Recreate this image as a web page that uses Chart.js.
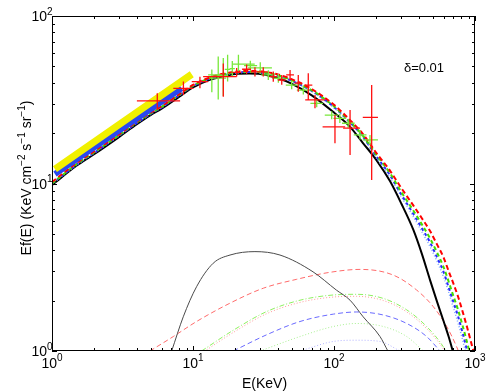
<!DOCTYPE html>
<html>
<head>
<meta charset="utf-8">
<script src="https://cdn.jsdelivr.net/npm/chart.js@4.4.0/dist/chart.umd.min.js"></script>
<style>
  body { margin: 0; background: #fff; }
  #wrap { width: 491px; height: 392px; }
</style>
</head>
<body>
<div id="wrap"><canvas id="specChart" width="491" height="392"></canvas></div>
<script>
// Total model curves, sampled on one energy grid (keV)
const modelE = [1, 1.5, 2, 3, 4, 5, 6, 8, 10, 13, 16, 20, 25, 30, 40, 50, 70, 100, 130, 160, 200, 250, 300, 365, 420, 480, 540, 600, 650, 700, 760, 820, 880, 940, 1000];
const totalBlack = [9.8, 12.8, 15.0, 19.0, 22.6, 25.6, 28.0, 33.0, 37.5, 41.5, 43.5, 45.0, 45.3, 45.0, 42.5, 39.5, 33.5, 26.5, 21.8, 17.5, 13.8, 10.3, 7.6, 5.3, 3.8, 2.65, 1.95, 1.5, 1.22, 0.98, 0.75, 0.55, 0.4, 0.28, 0.2];
const totalRed = [10.2, 13.3, 15.6, 19.7, 23.4, 26.5, 29.0, 34.2, 38.8, 42.8, 45.0, 46.5, 47.0, 46.8, 44.8, 42.0, 36.5, 29.5, 23.9, 19.8, 15.2, 11.9, 9.4, 7.4, 6.2, 5.2, 4.3, 3.6, 3.0, 2.55, 2.1, 1.7, 1.38, 1.12, 0.92];
const totalGreen = [10.0, 13.1, 15.4, 19.5, 23.2, 26.2, 28.7, 33.9, 38.4, 42.4, 44.6, 46.1, 46.5, 46.3, 44.3, 41.4, 35.9, 28.9, 23.4, 19.3, 14.8, 11.5, 8.9, 6.9, 5.7, 4.7, 3.85, 3.15, 2.6, 2.15, 1.75, 1.4, 1.12, 0.9, 0.72];
const totalBlue = [10.0, 13.0, 15.3, 19.4, 23.0, 26.0, 28.5, 33.7, 38.2, 42.2, 44.4, 45.9, 46.3, 46.1, 44.0, 41.1, 35.6, 28.6, 23.2, 19.1, 14.5, 11.2, 8.6, 6.6, 5.4, 4.45, 3.6, 2.95, 2.4, 1.98, 1.6, 1.27, 1.0, 0.8, 0.63];
const totalCyan = [9.9, 12.9, 15.2, 19.3, 22.9, 25.9, 28.4, 33.5, 38.0, 42.0, 44.2, 45.7, 46.1, 45.9, 43.8, 40.8, 35.3, 28.3, 23.0, 18.9, 14.2, 10.9, 8.35, 6.35, 5.15, 4.2, 3.4, 2.75, 2.25, 1.83, 1.46, 1.15, 0.9, 0.72, 0.56];

// Single components (lower part of the plot)
const compGrayE = [7.06, 8.53, 10.6, 13.9, 18.3, 27.5, 41.4, 71, 104, 130, 161, 212, 241];
const compGrayF = [1.0, 1.6, 2.42, 3.34, 3.74, 3.92, 3.74, 2.97, 2.31, 2.01, 1.6, 1.22, 1.0];
const compRedE = [4.95, 7.25, 10.6, 18.3, 31.5, 54.4, 93.7, 153, 263, 386, 506, 630, 741, 800];
const compRedF = [1.0, 1.22, 1.5, 1.93, 2.37, 2.68, 2.95, 3.07, 2.84, 2.31, 1.84, 1.4, 1.06, 0.9];
const compGreenE = [11.5, 19.3, 33.3, 57.4, 98.9, 145, 224, 328, 454, 596, 640];
const compGreenF = [1.0, 1.33, 1.72, 2.01, 2.16, 2.18, 2.06, 1.76, 1.4, 1.06, 0.95];
const compPinkF = [0.97, 1.29, 1.67, 1.95, 2.1, 2.12, 2.0, 1.71, 1.36, 1.03, 0.92];
const compBlueE = [19.3, 33.3, 57.4, 98.9, 145, 224, 328, 454, 565];
const compBlueF = [1.0, 1.25, 1.5, 1.66, 1.71, 1.64, 1.46, 1.22, 1.0];
const compLimeE = [29.9, 57.4, 98.9, 145, 224, 328, 430];
const compLimeF = [1.0, 1.22, 1.4, 1.46, 1.4, 1.22, 1.0];
const compLilacE = [57.4, 98.9, 145, 212, 294];
const compLilacF = [1.0, 1.14, 1.16, 1.14, 1.0];

// Power-law bands at low energy
const yellowBandE = [1.05, 9.8];
const yellowBandF = [12.2, 44.9];
const blueBandE = [1.05, 8.3];
const blueBandF = [11.4, 37.0];

// Measurements (red)
const redE   = [5.58, 8.55, 11.2, 16.4, 20.4, 24.0, 27.5, 31.5, 37.1, 42.6, 48.8, 55.8, 65.7, 73.3, 101.6, 130, 185];
const redF   = [31.1, 37.0, 40.6, 43.5, 46.1, 48.1, 46.4, 46.4, 43.5, 41.5, 44.5, 39.7, 38.7, 31.6, 21.8, 21.4, 24.8];
const redElo = [4.0, 7.25, 9.8, 11.8, 19.0, 22.3, 25.7, 29.5, 34.8, 40.0, 45.8, 52.5, 61.5, 62.5, 83, 116, 160];
const redEhi = [8.1, 10.05, 12.8, 20.4, 22.0, 25.8, 29.5, 33.8, 39.5, 45.4, 52.0, 59.3, 70.2, 86.6, 120, 153, 205];
const redFlo = [27.5, 33.8, 37.0, 33.0, 43.5, 45.0, 43.5, 43.5, 40.5, 38.8, 41.5, 35.3, 31.5, 28.1, 17.4, 14.8, 10.5];
const redFhi = [34.6, 40.6, 43.4, 52.0, 49.0, 51.3, 49.5, 49.5, 46.6, 44.5, 47.6, 44.5, 45.5, 33.8, 25.6, 27.5, 38.7];

// Measurements (green)
const greenE   = [13.6, 15.1, 16.4, 17.6, 19.0, 21.0, 25.5, 30.0, 34.2, 40.3, 50.1, 60.6, 75.4, 96.3, 110, 126, 153, 180];
const greenF   = [44.5, 42.6, 44.0, 48.0, 48.5, 51.6, 50.5, 49.0, 44.5, 42.5, 38.7, 36.1, 30.1, 25.6, 24.5, 22.9, 19.5, 18.2];
const greenElo = [12.8, 13.3, 15.3, 16.8, 18.2, 19.2, 23.0, 24.5, 30.5, 36.5, 45.5, 54.5, 68.0, 86.0, 99.0, 114, 138, 160];
const greenEhi = [16.1, 17.2, 17.6, 18.4, 19.8, 27.4, 28.5, 36.3, 38.0, 44.5, 55.5, 67.0, 83.5, 107, 122, 140, 170, 205];
const greenFlo = [35.0, 31.7, 33.3, 40.7, 43.9, 46.8, 47.0, 45.0, 41.5, 40.0, 36.5, 34.0, 28.5, 24.2, 23.0, 21.5, 18.3, 17.0];
const greenFhi = [48.0, 57.4, 56.1, 58.8, 53.8, 58.8, 54.0, 53.0, 47.5, 45.0, 41.0, 38.3, 32.0, 27.0, 26.0, 24.3, 20.8, 19.5];

// Axis ticks
const xMajor = [1, 10, 100, 1000];
const xExp = ['0', '1', '2', '3'];
const yMajor = [1, 10, 100];
const yExp = ['0', '1', '2'];

const FONT = '"Liberation Sans", Arial, Helvetica, sans-serif';

function pts(xs, ys) {
    return xs.map((x, i) => ({ x: x, y: ys[i] }));
}

function curve(xs, ys, color, width, dash, order) {
    return {
        data: pts(xs, ys),
        borderColor: color,
        borderWidth: width,
        borderDash: dash,
        pointRadius: 0,
        fill: false,
        cubicInterpolationMode: 'monotone',
        order: order
    };
}

// Error crosses drawn through the chart scales
const errorBars = {
    id: 'errorBars',
    afterDatasetsDraw(chart) {
        const ctx = chart.ctx;
        const xs = chart.scales.x, ys = chart.scales.y;
        const a = chart.chartArea;
        function crosses(E, F, Elo, Ehi, Flo, Fhi, color) {
            ctx.strokeStyle = color;
            ctx.lineWidth = 1.3;
            E.forEach((e, i) => {
                const px = xs.getPixelForValue(e);
                const py = ys.getPixelForValue(F[i]);
                ctx.beginPath();
                ctx.moveTo(xs.getPixelForValue(Elo[i]), py);
                ctx.lineTo(xs.getPixelForValue(Ehi[i]), py);
                ctx.moveTo(px, ys.getPixelForValue(Flo[i]));
                ctx.lineTo(px, ys.getPixelForValue(Fhi[i]));
                ctx.stroke();
            });
        }
        ctx.save();
        ctx.beginPath();
        ctx.rect(a.left, a.top, a.right - a.left, a.bottom - a.top);
        ctx.clip();
        crosses(greenE, greenF, greenElo, greenEhi, greenFlo, greenFhi, '#78e83a');
        crosses(redE, redF, redElo, redEhi, redFlo, redFhi, '#ff1010');
        ctx.restore();
    }
};

// Box, inward ticks, labels
const frameAndLabels = {
    id: 'frameAndLabels',
    afterDraw(chart) {
        const ctx = chart.ctx;
        const a = chart.chartArea;
        const xs = chart.scales.x, ys = chart.scales.y;
        ctx.save();
        ctx.strokeStyle = '#000';
        ctx.lineWidth = 1;
        ctx.strokeRect(a.left + 0.5, a.top + 0.5, a.right - a.left - 1, a.bottom - a.top - 1);

        ctx.beginPath();
        // x ticks, bottom and top
        for (let d = 1; d < 1000; d *= 10) {
            for (let m = 1; m <= 10; m++) {
                const px = Math.round(xs.getPixelForValue(m * d)) + 0.5;
                const len = (m === 1 || m === 10) ? 5 : 3;
                ctx.moveTo(px, a.bottom); ctx.lineTo(px, a.bottom - len);
                ctx.moveTo(px, a.top); ctx.lineTo(px, a.top + len);
            }
        }
        // y ticks, left and right
        for (let d = 1; d < 100; d *= 10) {
            for (let m = 1; m <= 10; m++) {
                const py = Math.round(ys.getPixelForValue(m * d)) + 0.5;
                const len = (m === 1 || m === 10) ? 5 : 3;
                ctx.moveTo(a.left, py); ctx.lineTo(a.left + len, py);
                ctx.moveTo(a.right, py); ctx.lineTo(a.right - len, py);
            }
        }
        ctx.stroke();

        ctx.fillStyle = '#000';
        ctx.textBaseline = 'middle';
        // x tick labels
        xMajor.forEach((v, i) => {
            const px = xs.getPixelForValue(v);
            ctx.font = '14px ' + FONT;
            const w1 = ctx.measureText('10').width;
            ctx.font = '10px ' + FONT;
            const w2 = ctx.measureText(xExp[i]).width;
            const x0 = px - (w1 + w2) / 2;
            ctx.textAlign = 'left';
            ctx.font = '14px ' + FONT;
            ctx.fillText('10', x0, a.bottom + 13);
            ctx.font = '10px ' + FONT;
            ctx.fillText(xExp[i], x0 + w1, a.bottom + 7);
        });
        // y tick labels
        yMajor.forEach((v, i) => {
            const py = ys.getPixelForValue(v);
            ctx.textAlign = 'right';
            ctx.font = '14px ' + FONT;
            ctx.fillText('10', a.left - 5, py + 1.5);
            ctx.textAlign = 'left';
            ctx.font = '10px ' + FONT;
            ctx.fillText(yExp[i], a.left - 5, py - 4);
        });

        // x title
        ctx.textAlign = 'center';
        ctx.font = '14px ' + FONT;
        ctx.fillText('E(KeV)', (a.left + a.right) / 2 + 1, 384);

        // y title with superscripts, rotated
        const parts = [['Ef(E) (KeV cm', false], ['\u22122', true], [' s', false], ['\u22121', true], [' sr', false], ['\u22121', true], [')', false]];
        let total = 0;
        parts.forEach(p => {
            ctx.font = (p[1] ? '10px ' : '14px ') + FONT;
            total += ctx.measureText(p[0]).width;
        });
        ctx.translate(31, 178);
        ctx.rotate(-Math.PI / 2);
        ctx.textAlign = 'left';
        ctx.textBaseline = 'alphabetic';
        let x = -total / 2;
        parts.forEach(p => {
            ctx.font = (p[1] ? '10px ' : '14px ') + FONT;
            ctx.fillText(p[0], x, p[1] ? -6 : 0);
            x += ctx.measureText(p[0]).width;
        });
        ctx.restore();

        // annotation
        ctx.save();
        ctx.fillStyle = '#000';
        ctx.font = '13px ' + FONT;
        ctx.textAlign = 'center';
        ctx.textBaseline = 'alphabetic';
        ctx.fillText('\u03b4=0.01', 424, 72);
        ctx.restore();
    }
};

function initChart() {
    const ctx = document.getElementById('specChart').getContext('2d');
    new Chart(ctx, {
        type: 'line',
        data: {
            datasets: [
                // components
                curve(compLilacE, compLilacF, '#b0b0ff', 1, [1, 2], 20),
                curve(compLimeE, compLimeF, '#a8f090', 1, [1, 2], 19),
                curve(compBlueE, compBlueF, '#6a6aff', 1, [5, 3], 18),
                curve(compGreenE, compPinkF, '#ff9a9a', 1, [1, 2], 17),
                curve(compGreenE, compGreenF, '#8ef060', 1, [5, 2, 1, 2], 16),
                curve(compRedE, compRedF, '#ff6a6a', 1, [5, 3], 15),
                curve(compGrayE, compGrayF, '#4a4a4a', 1, [], 14),
                // totals
                curve(modelE, totalBlack, '#000000', 2, [], 10),
                curve(modelE, totalCyan, '#7aa8ff', 1.5, [1, 2], 9),
                curve(modelE, totalBlue, '#2a2aff', 2, [3, 3], 8),
                curve(modelE, totalGreen, '#44dd00', 2, [4, 3], 7),
                curve(modelE, totalRed, '#ff0000', 2, [5, 3], 6),
                // low energy bands
                curve(blueBandE, blueBandF, '#2848f0', 6, [], 3),
                curve(yellowBandE, yellowBandF, '#f0f000', 7, [], 2)
            ]
        },
        options: {
            responsive: false,
            devicePixelRatio: 1,
            animation: false,
            layout: { padding: { left: 52, right: 16, top: 16, bottom: 41 } },
            plugins: {
                legend: { display: false },
                tooltip: { enabled: false }
            },
            scales: {
                x: { type: 'logarithmic', min: 1, max: 1000, display: false },
                y: { type: 'logarithmic', min: 1, max: 100, display: false }
            }
        },
        plugins: [errorBars, frameAndLabels]
    });
}

initChart();
</script>
</body>
</html>
